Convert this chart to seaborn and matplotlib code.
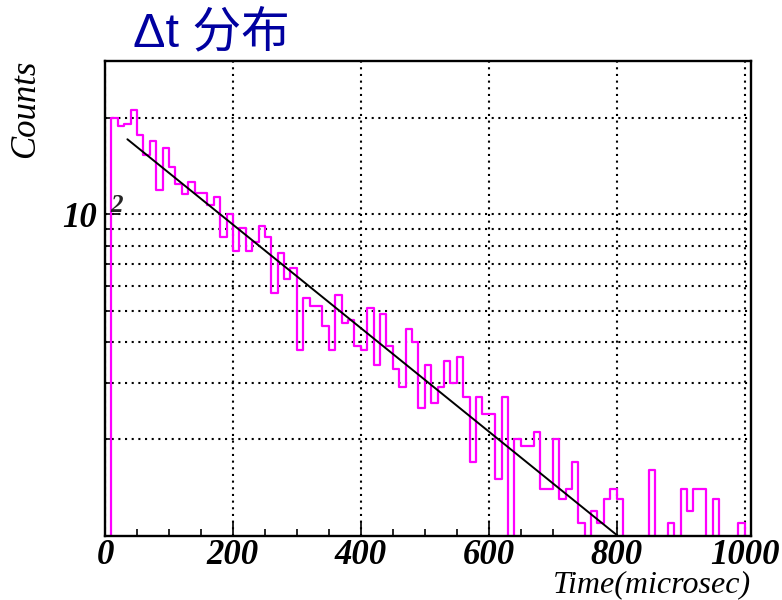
import numpy as np
import pandas as pd
import matplotlib
matplotlib.use("Agg")
import matplotlib.pyplot as plt
import matplotlib.transforms as mtransforms
from matplotlib.ticker import FixedLocator, NullFormatter, FixedFormatter
import seaborn as sns

# Decay-time histogram: 101 bins of 10 microsec from 0 to 1010
bin_width = 10
bin_lo = 0
counts = [
    0,
    200, 188, 191, 211, 176, 153, 169, 119, 161, 140,
    124, 116, 126, 117, 117, 107, 113, 85, 100, 77,
    91, 77, 82, 92, 85, 57, 76, 63, 68, 38,
    55, 52, 52, 45, 38, 56, 46, 47, 39, 38,
    51, 34, 49, 39, 33, 29, 44, 40, 25, 34,
    26, 29, 35, 30, 36, 27, 17, 27, 24, 24,
    15, 27, 0, 20, 19, 19, 21, 14, 14, 20,
    13, 14, 17, 11, 0, 12, 11, 13, 14, 13,
    0, 0, 0, 0, 16, 0, 0, 11, 0, 14,
    12, 14, 14, 0, 13, 0, 0, 0, 11, 0,
]

# Exponential fit  f(t) = A * exp(-t / tau) over the fit range
fit_const = 195.0
fit_tau = 270.0
fit_range = (35, 800)

x_ticks = [0, 200, 400, 600, 800, 1000]
x_tick_labels = ["0", "200", "400", "600", "800", "1000"]
y_minor_ticks = [20, 30, 40, 50, 60, 70, 80, 90, 200]

title_text = "Δt 分布"
x_title = "Time(microsec)"
y_title = "Counts"

n_bins = len(counts)
bin_hi = bin_lo + bin_width * n_bins
centers = bin_lo + bin_width * (np.arange(n_bins) + 0.5)
hist_df = pd.DataFrame({"t": centers, "n": counts})

fit_t = np.linspace(fit_range[0], fit_range[1], 300)
fit_df = pd.DataFrame({"t": fit_t, "f": fit_const * np.exp(-fit_t / fit_tau)})

sns.set_style("ticks")
plt.rcParams["axes.linewidth"] = 1.5

W, H = 782, 600
fig = plt.figure(figsize=(W / 100, H / 100), dpi=100)
ax = fig.add_axes([105 / W, 1 - 536 / H, (751 - 105) / W, (536 - 61) / H])

sns.histplot(data=hist_df, x="t", weights="n", binwidth=bin_width,
             binrange=(bin_lo, bin_hi), element="step", fill=False,
             color="#ff00ff", linewidth=1.6, ax=ax)
sns.lineplot(data=fit_df, x="t", y="f", color="black", linewidth=1.4, ax=ax)

ax.set_yscale("log")
ax.set_xlim(bin_lo, bin_hi)
ax.set_ylim(10, 300)

for s in ax.spines.values():
    s.set_color("black")
    s.set_linewidth(1.7)

ax.xaxis.set_major_locator(FixedLocator(x_ticks))
ax.xaxis.set_minor_locator(FixedLocator(np.arange(0, 1001, 50)))
ax.set_xticklabels(x_tick_labels)
ax.yaxis.set_major_locator(FixedLocator([100]))
ax.yaxis.set_minor_locator(FixedLocator(y_minor_ticks))
ax.yaxis.set_major_formatter(FixedFormatter(["10"]))
ax.yaxis.set_minor_formatter(NullFormatter())

ax.tick_params(axis="both", which="major", direction="in", length=10, width=1.2,
               color="black", top=False, right=False)
ax.tick_params(axis="both", which="minor", direction="in", length=5, width=1.2,
               color="black", top=False, right=False)
ax.tick_params(axis="x", which="major", pad=2)
ax.tick_params(axis="y", which="major", pad=6)

tick_font = dict(family="Liberation Serif", style="italic", weight="bold", size=25)
for lab in ax.get_xticklabels() + ax.get_yticklabels():
    lab.set_fontfamily(tick_font["family"])
    lab.set_fontstyle(tick_font["style"])
    lab.set_fontweight(tick_font["weight"])
    lab.set_fontsize(tick_font["size"])
    lab.set_color("black")

# exponent of the 10^2 label
blend = mtransforms.blended_transform_factory(ax.transAxes, ax.transData)
ax.text(0.008, 102, "2", transform=blend, ha="left", va="baseline",
        family="Liberation Serif", style="italic", weight="bold", fontsize=18,
        clip_on=False)

ax.grid(False)
dot_style = dict(color="black", linestyle=(0, (1, 2.2)), linewidth=1.5)
ax.grid(True, axis="x", which="major", **dot_style)
ax.grid(True, axis="y", which="both", **dot_style)
ax.set_axisbelow(True)
ax.set_xlabel("")
ax.set_ylabel("")

fig.text(133 / W, 1 - 34 / H, title_text, ha="left", va="center", fontsize=35,
         color="#0000a0", family=["Liberation Sans", "Noto Sans CJK SC"])
fig.text(26 / W, 1 - 60 / H, y_title, rotation=90, ha="center", va="top",
         fontsize=25, style="italic", family="Liberation Serif", color="black")
fig.text(751 / W, 1 - 585 / H, x_title, ha="right", va="center",
         fontsize=23, style="italic", family="Liberation Serif", color="black")

fig.savefig("out.png", dpi=100, facecolor="white")
